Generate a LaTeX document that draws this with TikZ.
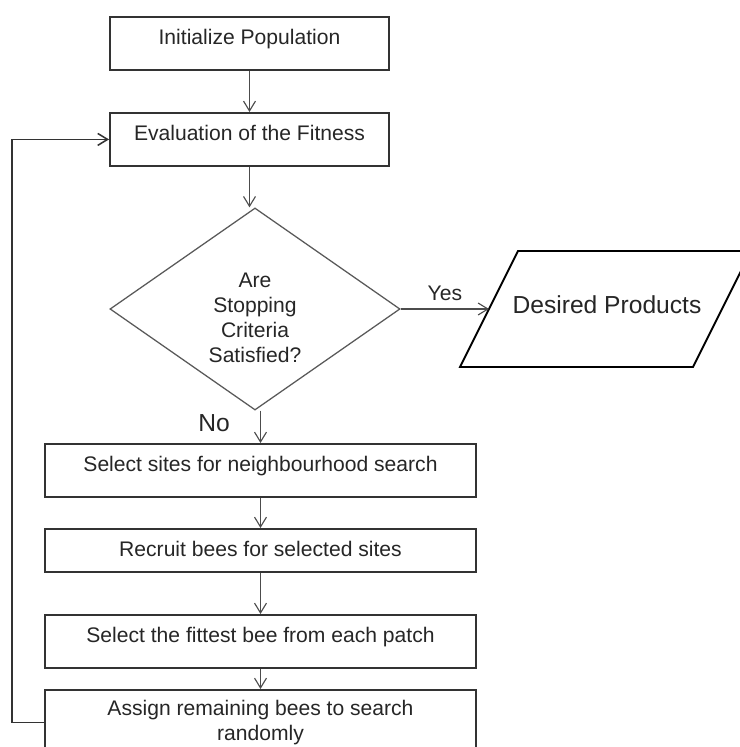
\documentclass[tikz,border=0pt]{standalone}
\usepackage{fontspec}
\setmainfont{Liberation Sans}
\usetikzlibrary{shapes.geometric,arrows.meta}
\begin{document}
\begin{tikzpicture}[x=0.025cm,y=-0.025cm,
        font=\fontsize{15}{18}\selectfont, text=black!85,
        >={Straight Barb[length=7pt,width=8.5pt]},
        box/.style={draw=black!80, line width=1.3pt, inner sep=0pt, text height=19.9pt, text depth=17.8pt},
        arr/.style={->, draw=black!70, line width=0.8pt}]
        \useasboundingbox (0,0) rectangle (740,747);

        \node[box, minimum width=6.975cm, anchor=north] (init) at (249.5,16) {Initialize Population};
        \node[box, minimum width=6.975cm, anchor=north] (eval) at (249.5,112) {Evaluation of the Fitness};
        \node[diamond, aspect=1.45, draw=black!65, line width=0.9pt, inner sep=0pt, minimum width=7.25cm, minimum height=5.05cm, align=center, text height=78pt, text depth=1.2pt] (stop) at (255,309) {Are\\Stopping\\Criteria\\Satisfied?};

        % output parallelogram
        \draw[draw=black, line width=1.3pt] (460,367) -- (518,251) -- (751,251) -- (693,367) -- cycle;
        \node[font=\fontsize{17.5}{20}\selectfont] (prod) at (607,305) {Desired Products};
        \coordinate (prodin) at (489,309);

        \node[box, minimum width=10.775cm, anchor=north] (sel) at (260.5,443) {Select sites for neighbourhood search};
        \node[box, minimum width=10.775cm, anchor=north, text depth=10.7pt] (recruit) at (260.5,528) {Recruit bees for selected sites};
        \node[box, minimum width=10.775cm, anchor=north] (fittest) at (260.5,614) {Select the fittest bee from each patch};
        \node[box, minimum width=10.775cm, anchor=north, align=center, text height=36.3pt, text depth=10pt] (assign) at (260.5,689) {Assign remaining bees to search\\randomly};

        \node[font=\fontsize{17.5}{20}\selectfont] (no) at (214,423) {No};

        \draw[arr] (init) -- (eval);
        \draw[arr] (eval.south) -- (eval.south |- stop.north);
        \draw[arr] (stop) -- node[above=2pt] (yes) {Yes} (prodin);
        \draw[arr] (sel.north |- stop.south) -- (sel);
        \draw[arr] (sel) -- (recruit);
        \draw[arr] (recruit) -- (fittest);
        \draw[arr] (fittest) -- (assign);
        \draw[arr, draw=black!80, line width=1.1pt] (assign.west) -- ++(-32,0) |- (eval.west);
    \end{tikzpicture}
\end{document}
